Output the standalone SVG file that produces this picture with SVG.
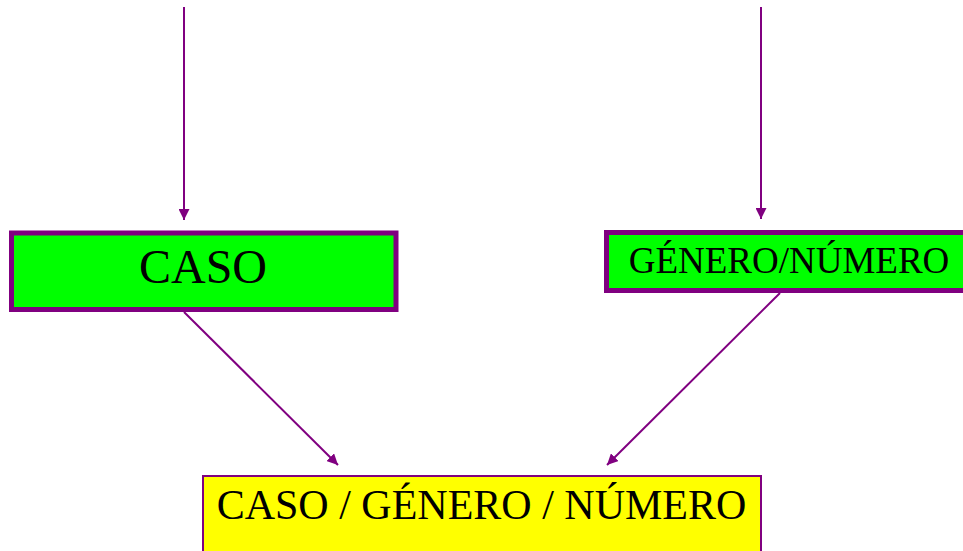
<svg xmlns="http://www.w3.org/2000/svg" width="963" height="551" viewBox="0 0 963 551">
<style>
.t{font-family:"Liberation Serif","Times New Roman",serif;fill:#000;text-anchor:middle}
.green{fill:#00ff00;stroke:#800080;stroke-width:5}
.yellow{fill:#ffff00;stroke:#800080;stroke-width:2}
.c{stroke:#800080;stroke-width:2;fill:none;marker-end:url(#ah)}
</style>
<defs>
<marker id="ah" viewBox="0 0 10 10" refX="10" refY="5" markerWidth="5.5" markerHeight="5.5" orient="auto" markerUnits="strokeWidth">
<path d="M0,0 L10,5 L0,10 z" fill="#800080"/>
</marker>
</defs>
<g id="connectors">
<line class="c" x1="184" y1="7" x2="184" y2="220"/>
<line class="c" x1="761" y1="7" x2="761" y2="219"/>
<line class="c" x1="184" y1="312" x2="338" y2="465"/>
<line class="c" x1="780" y1="293" x2="607" y2="465"/>
</g>
<g id="caso">
<rect class="green" x="11.5" y="233" width="384.5" height="76.5"/>
<text class="t" x="203" y="283" font-size="48">CASO</text>
</g>
<g id="genero-numero">
<rect class="green" x="606.5" y="232.5" width="370" height="58"/>
<text class="t" x="789" y="273" font-size="37">GÉNERO/NÚMERO</text>
</g>
<g id="caso-genero-numero">
<rect class="yellow" x="203" y="476" width="558" height="90"/>
<text class="t" x="481.5" y="519" font-size="42">CASO / GÉNERO / NÚMERO</text>
</g>
</svg>
